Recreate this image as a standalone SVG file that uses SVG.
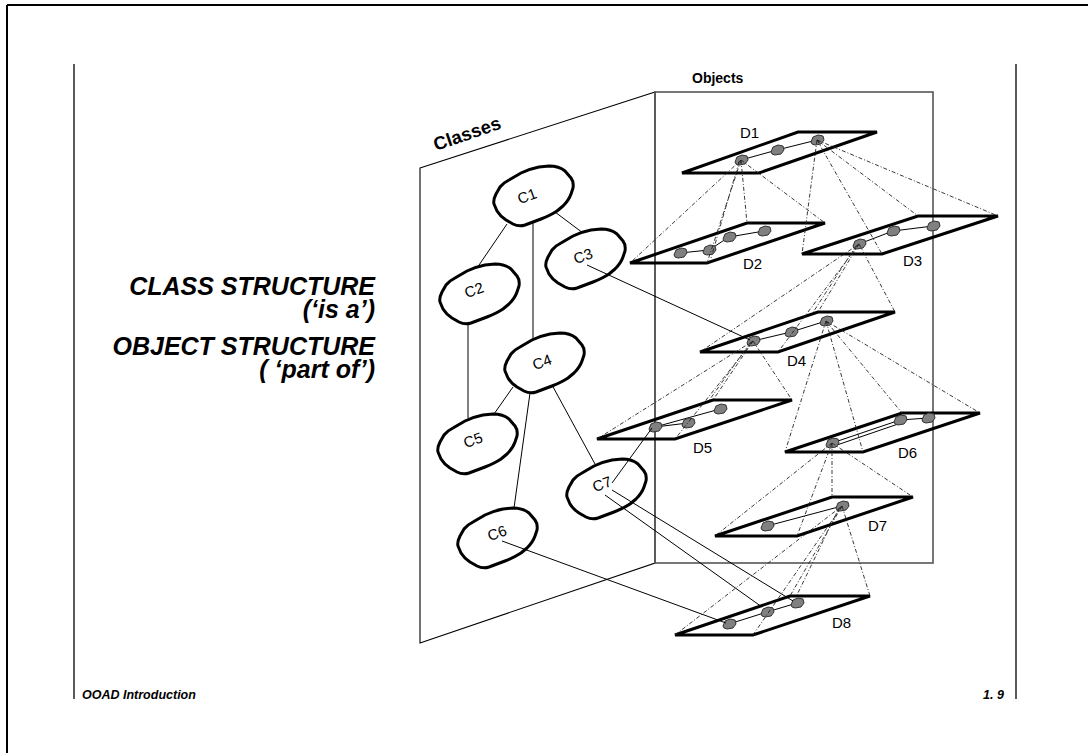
<svg xmlns="http://www.w3.org/2000/svg" xmlns:xlink="http://www.w3.org/1999/xlink" width="1088" height="753" viewBox="0 0 1088 753">
<style>
.frame{stroke:#000;stroke-width:2;fill:none}
.rule{stroke:#000;stroke-width:1.3;fill:none}
.plane{stroke:#000;stroke-width:1.1;fill:none}
.objbox{stroke:#555;stroke-width:1.6;fill:none}
.blob{stroke:#000;stroke-width:3;fill:#fff;stroke-linejoin:round}
.obj{stroke:#000;stroke-width:3;fill:none;stroke-linejoin:miter}
.dot{fill:#808080;stroke:#333;stroke-width:1}
.ln{stroke:#000;stroke-width:1;fill:none}
.dl{stroke:#222;stroke-width:0.9;fill:none;stroke-dasharray:4 2 1 2}
.lbl{font-family:"Liberation Sans",Arial,sans-serif;font-size:15px;fill:#000}
.big{font-family:"Liberation Sans",Arial,sans-serif;font-size:25px;font-weight:bold;font-style:italic;text-anchor:end;fill:#000}
.foot{font-family:"Liberation Sans",Arial,sans-serif;font-size:12.5px;font-weight:bold;font-style:italic;fill:#000}
.hdr{font-family:"Liberation Sans",Arial,sans-serif;font-weight:bold;fill:#000}
</style>
<defs>
<path id="blob" d="M-39,9 Q-40,5 -37,-1 L-33,-8 Q-30,-12 -24,-15 L-12,-22 Q-4,-26 6,-28 L16,-29 Q26,-29 32,-24 L38,-17 Q41,-13 40,-7 L38,-1 Q36,5 30,11 L24,16 Q18,20 8,24 L-8,30 Q-14,32 -20,29 L-27,25 Q-33,21 -36,16 Z"/>
<path id="dot" d="M-6,2 L-4,-3 L1,-5 L6,-4 L7,0 L4,4 L-2,5 L-5,4 Z"/>
</defs>
<rect width="1088" height="753" fill="#fff"/>
<g id="page">
<line class="frame" x1="7" y1="5" x2="1088" y2="5"/>
<line class="frame" x1="7" y1="5" x2="7" y2="753"/>
<line class="rule" x1="74" y1="64" x2="74" y2="699"/>
<line class="rule" x1="1016" y1="64" x2="1016" y2="699"/>
<text class="foot" x="82" y="699">OOAD  Introduction</text>
<text class="foot" x="983" y="699">1. 9</text>
<text class="big" x="375" y="295">CLASS STRUCTURE</text>
<text class="big" x="375" y="318">(‘is a’)</text>
<text class="big" x="375" y="355">OBJECT STRUCTURE</text>
<text class="big" x="375" y="378">( ‘part of’)</text>
</g>
<g id="classes-plane">
<polygon class="plane" points="420,168 655,92 655,563 420,643"/>
<text class="hdr" font-size="18.5" x="436" y="151" transform="rotate(-19 436 151)">Classes</text>
</g>
<g id="objects-plane">
<rect class="objbox" x="655" y="92" width="278" height="471"/>
<text class="hdr" font-size="14" x="692" y="83">Objects</text>
</g>
<g id="C1"><use xlink:href="#blob" href="#blob" class="blob" transform="translate(533,195)"/><text class="lbl" x="527" y="196" text-anchor="middle" dy="0.35em" transform="rotate(-20 527 196)">C1</text></g>
<g id="C2"><use xlink:href="#blob" href="#blob" class="blob" transform="translate(479,293)"/><text class="lbl" x="474" y="290" text-anchor="middle" dy="0.35em" transform="rotate(-20 474 290)">C2</text></g>
<g id="C3"><use xlink:href="#blob" href="#blob" class="blob" transform="translate(585,258)"/><text class="lbl" x="583" y="256" text-anchor="middle" dy="0.35em" transform="rotate(-20 583 256)">C3</text></g>
<g id="C4"><use xlink:href="#blob" href="#blob" class="blob" transform="translate(544,362)"/><text class="lbl" x="542" y="362" text-anchor="middle" dy="0.35em" transform="rotate(-20 542 362)">C4</text></g>
<g id="C5"><use xlink:href="#blob" href="#blob" class="blob" transform="translate(477,443)"/><text class="lbl" x="473" y="440" text-anchor="middle" dy="0.35em" transform="rotate(-20 473 440)">C5</text></g>
<g id="C6"><use xlink:href="#blob" href="#blob" class="blob" transform="translate(497,537)"/><text class="lbl" x="497" y="533" text-anchor="middle" dy="0.35em" transform="rotate(-20 497 533)">C6</text></g>
<g id="C7"><use xlink:href="#blob" href="#blob" class="blob" transform="translate(606,488)"/><text class="lbl" x="602" y="484" text-anchor="middle" dy="0.35em" transform="rotate(-20 602 484)">C7</text></g>
<g id="D1"><polygon class="obj" points="682,173 759,173 877,132 798,132"/><text class="lbl" x="740" y="138">D1</text>
<path class="ln" d="M741,160 L777,150 L817,140"/>
<use href="#dot" class="dot" x="741" y="160"/><use href="#dot" class="dot" x="777" y="150"/><use href="#dot" class="dot" x="817" y="140"/></g>
<g id="D2"><polygon class="obj" points="630,263 707,263 825,223 747,223"/><text class="lbl" x="743" y="269">D2</text>
<path class="ln" d="M680,253 L709,250 L729,237 L764,231"/>
<use href="#dot" class="dot" x="680" y="253"/><use href="#dot" class="dot" x="709" y="250"/><use href="#dot" class="dot" x="729" y="237"/><use href="#dot" class="dot" x="764" y="231"/></g>
<g id="D3"><polygon class="obj" points="802,254 882,254 998,216 918,216"/><text class="lbl" x="903" y="266">D3</text>
<path class="ln" d="M859,244 L893,231 L933,226"/>
<use href="#dot" class="dot" x="859" y="244"/><use href="#dot" class="dot" x="893" y="231"/><use href="#dot" class="dot" x="933" y="226"/></g>
<g id="D4"><polygon class="obj" points="700,352 778,352 895,312 818,312"/><text class="lbl" x="787" y="366">D4</text>
<path class="ln" d="M753,341 L791,332 L826,321"/>
<use href="#dot" class="dot" x="753" y="341"/><use href="#dot" class="dot" x="791" y="332"/><use href="#dot" class="dot" x="826" y="321"/></g>
<g id="D5"><polygon class="obj" points="597,439 675,439 792,400 713,400"/><text class="lbl" x="693" y="453">D5</text>
<path class="ln" d="M655,427 L688,423 M655,427 L720,409"/>
<use href="#dot" class="dot" x="655" y="427"/><use href="#dot" class="dot" x="688" y="423"/><use href="#dot" class="dot" x="720" y="409"/></g>
<g id="D6"><polygon class="obj" points="785,452 863,452 980,413 902,413"/><text class="lbl" x="898" y="458">D6</text>
<path class="ln" d="M832,443 L900,420 M834,446 L901,423 M900,420 L928,418"/>
<use href="#dot" class="dot" x="832" y="443"/><use href="#dot" class="dot" x="900" y="420"/><use href="#dot" class="dot" x="928" y="418"/></g>
<g id="D7"><polygon class="obj" points="715,536 797,536 913,497 832,497"/><text class="lbl" x="868" y="531">D7</text>
<path class="ln" d="M767,526 L842,506"/>
<use href="#dot" class="dot" x="767" y="526"/><use href="#dot" class="dot" x="842" y="506"/></g>
<g id="D8"><polygon class="obj" points="675,635 753,635 870,596 790,596"/><text class="lbl" x="832" y="628">D8</text>
<path class="ln" d="M729,624 L767,612 L797,603"/>
<use href="#dot" class="dot" x="729" y="624"/><use href="#dot" class="dot" x="767" y="612"/><use href="#dot" class="dot" x="797" y="603"/></g>
<g id="connectors">
<path class="ln" d="M507,224 L477,268 M533,223 L533,339 M555,212 L583,233 M468,323 L468,418 M513,387 L494,414 M530,393 L514,508 M552,385 L595,464"/>
<path class="ln" d="M587,265 L750,340 M612,483 L652,428 M612,490 L793,601 M605,495 L762,607 M502,541 L726,623"/>
<path class="dl" d="M741,160 L630,263 M741,160 L707,263 M741,160 L747,223 M741,160 L825,223 M739,162 L711,258"/>
<path class="dl" d="M817,140 L802,254 M817,140 L882,254 M817,140 L918,216 M817,140 L998,216"/>
<path class="dl" d="M859,244 L700,352 M859,244 L778,352 M859,244 L818,312 M859,244 L895,312 M856,246 L812,314"/>
<path class="dl" d="M753,341 L597,439 M753,341 L675,439 M753,341 L713,400 M753,341 L792,400 M750,343 L708,402"/>
<path class="dl" d="M826,321 L785,452 M826,321 L863,452 M826,321 L902,413 M826,321 L980,413"/>
<path class="dl" d="M832,443 L715,536 M832,443 L797,536 M832,443 L832,497 M832,443 L913,497"/>
<path class="dl" d="M842,506 L675,635 M842,506 L753,635 M842,506 L790,596 M842,506 L870,596 M839,508 L796,597"/>
</g>
</svg>
